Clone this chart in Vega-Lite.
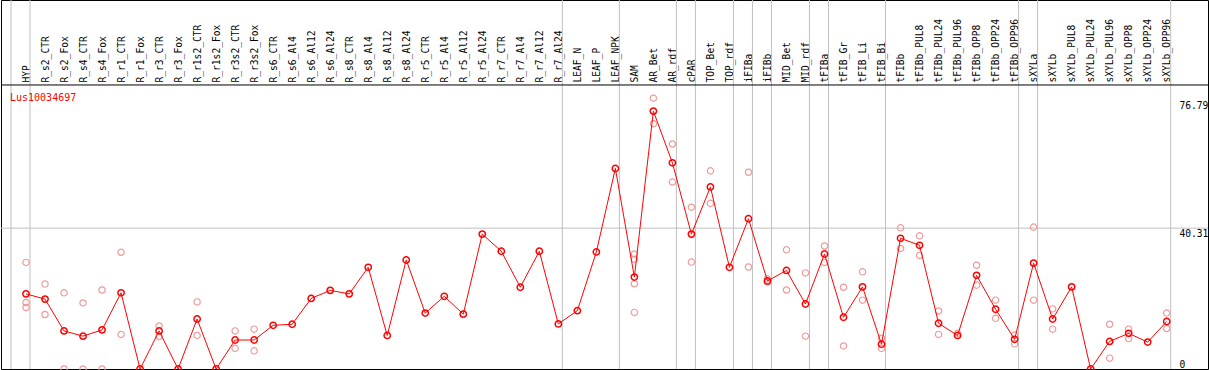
{
  "$schema": "https://vega.github.io/schema/vega-lite/v6.json",
  "width": 1207,
  "height": 369,
  "autosize": {"type": "none"},
  "padding": {"left": 1, "top": 0, "right": 1, "bottom": 1},
  "background": "white",
  "config": {
    "view": {"stroke": "black", "strokeWidth": 1},
    "axis": {"title": null, "ticks": false, "tickSize": 0, "domain": false, "grid": false, "labelFont": "DejaVu Sans Mono", "labelFontSize": 9.6, "labelColor": "black"}
  },
  "title": {"text": "Lus10034697", "anchor": "start", "frame": "group", "orient": "top", "offset": 0, "dx": 9, "dy": 103, "baseline": "top", "color": "#ff0000", "font": "DejaVu Sans Mono", "fontSize": 10, "fontWeight": "normal"},
  "datasets": {
    "means": [
      {"cat": "HYP", "v": 21.5}, {"cat": "R_s2_CTR", "v": 20.0}, {"cat": "R_s2_Fox", "v": 10.9}, {"cat": "R_s4_CTR", "v": 9.4}, {"cat": "R_s4_Fox", "v": 11.2},
      {"cat": "R_r1_CTR", "v": 21.8}, {"cat": "R_r1_Fox", "v": 0}, {"cat": "R_r3_CTR", "v": 10.9}, {"cat": "R_r3_Fox", "v": 0}, {"cat": "R_r1s2_CTR", "v": 14.3},
      {"cat": "R_r1s2_Fox", "v": 0}, {"cat": "R_r3s2_CTR", "v": 8.3}, {"cat": "R_r3s2_Fox", "v": 8.3}, {"cat": "R_s6_CTR", "v": 12.5}, {"cat": "R_s6_Al4", "v": 12.8},
      {"cat": "R_s6_Al12", "v": 20.2}, {"cat": "R_s6_Al24", "v": 22.5}, {"cat": "R_s8_CTR", "v": 21.5}, {"cat": "R_s8_Al4", "v": 29.1}, {"cat": "R_s8_Al12", "v": 9.6},
      {"cat": "R_s8_Al24", "v": 31.2}, {"cat": "R_r5_CTR", "v": 16.0}, {"cat": "R_r5_Al4", "v": 20.8}, {"cat": "R_r5_Al12", "v": 15.7}, {"cat": "R_r5_Al24", "v": 38.6},
      {"cat": "R_r7_CTR", "v": 33.7}, {"cat": "R_r7_Al4", "v": 23.4}, {"cat": "R_r7_Al12", "v": 33.7}, {"cat": "R_r7_Al24", "v": 12.9}, {"cat": "LEAF_N", "v": 16.7},
      {"cat": "LEAF_P", "v": 33.5}, {"cat": "LEAF_NPK", "v": 57.4}, {"cat": "SAM", "v": 26.3}, {"cat": "AR_Bet", "v": 73.8}, {"cat": "AR_rdf", "v": 59.0},
      {"cat": "cPAR", "v": 38.6}, {"cat": "TOP_Bet", "v": 52.1}, {"cat": "TOP_rdf", "v": 29.1}, {"cat": "iFIBa", "v": 43.0}, {"cat": "iFIBb", "v": 25.2},
      {"cat": "MID_Bet", "v": 28.2}, {"cat": "MID_rdf", "v": 18.6}, {"cat": "tFIBa", "v": 32.9}, {"cat": "tFIB_Gr", "v": 14.8}, {"cat": "tFIB_Li", "v": 23.5},
      {"cat": "tFIB_Bi", "v": 7.1}, {"cat": "tFIBb", "v": 37.4}, {"cat": "tFIBb_PUL8", "v": 35.4}, {"cat": "tFIBb_PUL24", "v": 13.1}, {"cat": "tFIBb_PUL96", "v": 9.6},
      {"cat": "tFIBb_OPP8", "v": 26.8}, {"cat": "tFIBb_OPP24", "v": 17.1}, {"cat": "tFIBb_OPP96", "v": 8.5}, {"cat": "sXYLa", "v": 30.3}, {"cat": "sXYLb", "v": 14.3},
      {"cat": "sXYLb_PUL8", "v": 23.5}, {"cat": "sXYLb_PUL24", "v": 0}, {"cat": "sXYLb_PUL96", "v": 7.9}, {"cat": "sXYLb_OPP8", "v": 10.2}, {"cat": "sXYLb_OPP24", "v": 7.7},
      {"cat": "sXYLb_OPP96", "v": 13.6}
    ],
    "reps": [
      {"cat": "HYP", "v": 30.5}, {"cat": "HYP", "v": 19.0}, {"cat": "HYP", "v": 17.6},
      {"cat": "R_s2_CTR", "v": 24.3}, {"cat": "R_s2_CTR", "v": 15.6},
      {"cat": "R_s2_Fox", "v": 21.8}, {"cat": "R_s2_Fox", "v": 0},
      {"cat": "R_s4_CTR", "v": 18.9}, {"cat": "R_s4_CTR", "v": 0},
      {"cat": "R_s4_Fox", "v": 22.6}, {"cat": "R_s4_Fox", "v": 0},
      {"cat": "R_r1_CTR", "v": 33.4}, {"cat": "R_r1_CTR", "v": 9.9},
      {"cat": "R_r3_CTR", "v": 12.3}, {"cat": "R_r3_CTR", "v": 9.3},
      {"cat": "R_r1s2_CTR", "v": 19.2}, {"cat": "R_r1s2_CTR", "v": 9.6},
      {"cat": "R_r3s2_CTR", "v": 10.9}, {"cat": "R_r3s2_CTR", "v": 5.9},
      {"cat": "R_r3s2_Fox", "v": 11.4}, {"cat": "R_r3s2_Fox", "v": 5.2},
      {"cat": "SAM", "v": 32.9}, {"cat": "SAM", "v": 31.4}, {"cat": "SAM", "v": 24.4}, {"cat": "SAM", "v": 16.2},
      {"cat": "AR_Bet", "v": 77.5}, {"cat": "AR_Bet", "v": 70.2},
      {"cat": "AR_rdf", "v": 64.4}, {"cat": "AR_rdf", "v": 53.5},
      {"cat": "cPAR", "v": 46.3}, {"cat": "cPAR", "v": 30.6},
      {"cat": "TOP_Bet", "v": 56.7}, {"cat": "TOP_Bet", "v": 47.4},
      {"cat": "iFIBa", "v": 56.3}, {"cat": "iFIBa", "v": 29.2},
      {"cat": "iFIBb", "v": 25.8}, {"cat": "iFIBb", "v": 24.9},
      {"cat": "MID_Bet", "v": 34.1}, {"cat": "MID_Bet", "v": 22.6},
      {"cat": "MID_rdf", "v": 27.5}, {"cat": "MID_rdf", "v": 9.4},
      {"cat": "tFIBa", "v": 35.2}, {"cat": "tFIBa", "v": 30.5},
      {"cat": "tFIB_Gr", "v": 23.4}, {"cat": "tFIB_Gr", "v": 6.6},
      {"cat": "tFIB_Li", "v": 27.8}, {"cat": "tFIB_Li", "v": 19.7},
      {"cat": "tFIB_Bi", "v": 8.8}, {"cat": "tFIB_Bi", "v": 5.9},
      {"cat": "tFIBb", "v": 40.4}, {"cat": "tFIBb", "v": 34.5},
      {"cat": "tFIBb_PUL8", "v": 38.1}, {"cat": "tFIBb_PUL8", "v": 32.5},
      {"cat": "tFIBb_PUL24", "v": 16.6}, {"cat": "tFIBb_PUL24", "v": 9.9},
      {"cat": "tFIBb_PUL96", "v": 10.2},
      {"cat": "tFIBb_OPP8", "v": 29.7}, {"cat": "tFIBb_OPP8", "v": 24.0},
      {"cat": "tFIBb_OPP24", "v": 19.7}, {"cat": "tFIBb_OPP24", "v": 14.5},
      {"cat": "tFIBb_OPP96", "v": 9.7}, {"cat": "tFIBb_OPP96", "v": 7.2},
      {"cat": "sXYLa", "v": 40.6}, {"cat": "sXYLa", "v": 19.7},
      {"cat": "sXYLb", "v": 17.2}, {"cat": "sXYLb", "v": 11.4},
      {"cat": "sXYLb_PUL96", "v": 12.8}, {"cat": "sXYLb_PUL96", "v": 3.1},
      {"cat": "sXYLb_OPP8", "v": 11.4}, {"cat": "sXYLb_OPP8", "v": 8.7},
      {"cat": "sXYLb_OPP96", "v": 16.0}, {"cat": "sXYLb_OPP96", "v": 11.6}
    ],
    "seps": [
      {"cat": "HYP"}, {"cat": "R_r7_Al24"}, {"cat": "LEAF_NPK"}, {"cat": "AR_rdf"}, {"cat": "cPAR"},
      {"cat": "TOP_rdf"}, {"cat": "iFIBa"}, {"cat": "iFIBb"}, {"cat": "MID_rdf"}, {"cat": "tFIBa"},
      {"cat": "tFIB_Bi"}, {"cat": "tFIBb_OPP96"}, {"cat": "sXYLa"}, {"cat": "sXYLb_OPP96"}
    ]
  },
  "encoding": {
    "x": {
      "field": "cat", "type": "nominal",
      "scale": {"type": "point", "padding": 0, "range": [25, 1165.7], "domain": ["HYP", "R_s2_CTR", "R_s2_Fox", "R_s4_CTR", "R_s4_Fox", "R_r1_CTR", "R_r1_Fox", "R_r3_CTR", "R_r3_Fox", "R_r1s2_CTR", "R_r1s2_Fox", "R_r3s2_CTR", "R_r3s2_Fox", "R_s6_CTR", "R_s6_Al4", "R_s6_Al12", "R_s6_Al24", "R_s8_CTR", "R_s8_Al4", "R_s8_Al12", "R_s8_Al24", "R_r5_CTR", "R_r5_Al4", "R_r5_Al12", "R_r5_Al24", "R_r7_CTR", "R_r7_Al4", "R_r7_Al12", "R_r7_Al24", "LEAF_N", "LEAF_P", "LEAF_NPK", "SAM", "AR_Bet", "AR_rdf", "cPAR", "TOP_Bet", "TOP_rdf", "iFIBa", "iFIBb", "MID_Bet", "MID_rdf", "tFIBa", "tFIB_Gr", "tFIB_Li", "tFIB_Bi", "tFIBb", "tFIBb_PUL8", "tFIBb_PUL24", "tFIBb_PUL96", "tFIBb_OPP8", "tFIBb_OPP24", "tFIBb_OPP96", "sXYLa", "sXYLb", "sXYLb_PUL8", "sXYLb_PUL24", "sXYLb_PUL96", "sXYLb_OPP8", "sXYLb_OPP24", "sXYLb_OPP96"]},
      "axis": {"orient": "top", "labelAngle": 270, "labelAlign": "left", "labelBaseline": "middle", "labelPadding": -82, "labelOverlap": false, "labelLimit": 0}
    },
    "y": {
      "field": "v", "type": "quantitative",
      "scale": {"domain": [0, 105.6], "nice": false, "zero": true},
      "axis": {"orient": "right", "values": [0, 40.31, 76.79], "labelExpr": "datum.value === 0 ? '0' : format(datum.value, '.2f')", "labelAlign": "left", "labelPadding": -29, "labelBaseline": {"condition": {"test": "datum.value === 0", "value": "bottom"}, "value": "top"}}
    }
  },
  "layer": [
    {
      "data": {"name": "seps"},
      "mark": {"type": "rule", "color": "#c0c0c0", "strokeWidth": 1, "xOffset": 4},
      "encoding": {"y": null}
    },
    {
      "data": {"values": [{"cat": "HYP"}]},
      "mark": {"type": "rule", "color": "#c0c0c0", "strokeWidth": 1, "xOffset": -15},
      "encoding": {"y": null}
    },
    {
      "data": {"values": [{"v": 40.31}]},
      "mark": {"type": "rule", "color": "#c0c0c0", "strokeWidth": 1},
      "encoding": {"x": null}
    },
    {
      "data": {"values": [{"v": 81.28}]},
      "mark": {"type": "rule", "color": "black", "strokeWidth": 1},
      "encoding": {"x": null}
    },
    {
      "data": {"name": "reps"},
      "mark": {"type": "point", "shape": "circle", "filled": false, "size": 40, "strokeWidth": 1.2, "color": "#f09a9a", "opacity": 1}
    },
    {
      "data": {"name": "means"},
      "mark": {"type": "line", "color": "#ff0000", "strokeWidth": 1}
    },
    {
      "data": {"name": "means"},
      "mark": {"type": "point", "shape": "circle", "filled": false, "size": 40, "strokeWidth": 1.5, "color": "#ff0000", "opacity": 1}
    }
  ]
}
